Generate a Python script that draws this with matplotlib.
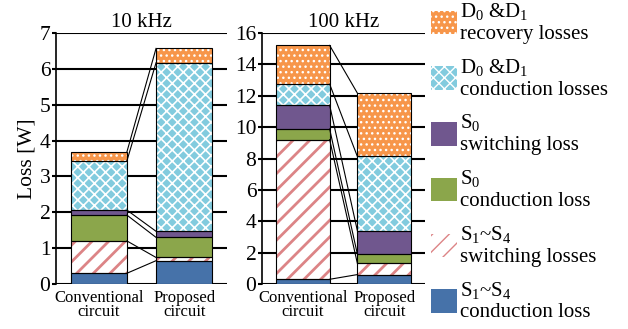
import matplotlib.pyplot as plt
import numpy as np
from matplotlib.patches import Patch

# Loss breakdown [W], bottom -> top:
# S1~S4 conduction, S1~S4 switching, S0 conduction, S0 switching,
# D0&D1 conduction, D0&D1 recovery
circuits = ["Conventional\ncircuit", "Proposed\ncircuit"]
panel_titles = ["10 kHz", "100 kHz"]

loss_10k_conv = [0.30, 0.90, 0.72, 0.14, 1.38, 0.25]
loss_10k_prop = [0.65, 0.09, 0.56, 0.17, 4.70, 0.40]
loss_100k_conv = [0.30, 8.90, 0.68, 1.52, 1.34, 2.47]
loss_100k_prop = [0.60, 0.72, 0.59, 1.49, 4.73, 4.04]

yticks_10k = [0, 1, 2, 3, 4, 5, 6, 7]
yticks_100k = [0, 2, 4, 6, 8, 10, 12, 14, 16]

legend_labels = [
    "S$_1$~S$_4$\nconduction loss",
    "S$_1$~S$_4$\nswitching losses",
    "S$_0$\nconduction loss",
    "S$_0$\nswitching loss",
    "D$_0$ &D$_1$\nconduction losses",
    "D$_0$ &D$_1$\nrecovery losses",
]

# (face, hatch, hatch colour, hatch width)
STYLES = [
    ("#4672A9", None, "white", 1.0),
    ("white", "//", "#DC8486", 2.0),
    ("#8BA64B", None, "white", 1.0),
    ("#70578E", None, "white", 1.0),
    ("#82CBDE", "xxx", "white", 1.2),
    ("#F7964A", "...", "white", 1.0),
]

BAR_W = 0.66

plt.rcParams.update(
    {
        "font.family": "Liberation Serif",
        "mathtext.fontset": "custom",
        "mathtext.rm": "Liberation Serif",
        "mathtext.it": "Liberation Serif:italic",
        "axes.spines.top": False,
        "axes.spines.right": False,
        "axes.spines.bottom": False,
    }
)


def draw_panel(ax, conv, prop, yticks, title):
    x = np.arange(2)
    bottoms = np.zeros(2)
    tops = []
    for i, (face, hatch, hcol, hlw) in enumerate(STYLES):
        h = np.array([conv[i], prop[i]])
        plt.rcParams["hatch.linewidth"] = hlw
        ax.bar(x, h, BAR_W, bottom=bottoms, color=face, hatch=hatch,
               edgecolor=hcol, linewidth=0, zorder=2)
        ax.bar(x, h, BAR_W, bottom=bottoms, facecolor="none",
               edgecolor="black", linewidth=0.8, zorder=3)
        bottoms = bottoms + h
        tops.append(bottoms.copy())

    # series lines between the stacks
    for t in tops:
        ax.plot([x[0] + BAR_W / 2, x[1] - BAR_W / 2], [t[0], t[1]],
                color="black", linewidth=0.8, zorder=3)

    ax.set_xlim(-0.5, 1.5)
    ax.set_ylim(0, yticks[-1])
    ax.set_yticks(yticks)
    ax.set_xticks(x)
    ax.set_xticklabels(circuits, fontsize=12, linespacing=0.9)
    ax.tick_params(axis="x", length=0, pad=4)
    ax.tick_params(axis="y", labelsize=15.5, length=3, width=1.5, pad=1)
    ax.yaxis.grid(True, color="black", linewidth=1.5, zorder=0)
    ax.set_axisbelow(True)
    ax.spines["left"].set_linewidth(1.2)
    ax.set_title(title, fontsize=15, pad=4)


fig = plt.figure(figsize=(6.28, 3.29), dpi=100)
ax1 = fig.add_axes([56 / 628, 1 - 284 / 329, 171 / 628, 251 / 329])
ax2 = fig.add_axes([262 / 628, 1 - 284 / 329, 163 / 628, 251 / 329])

draw_panel(ax1, loss_10k_conv, loss_10k_prop, yticks_10k, panel_titles[0])
draw_panel(ax2, loss_100k_conv, loss_100k_prop, yticks_100k, panel_titles[1])
ax1.set_ylabel("Loss [W]", fontsize=15.5, labelpad=2)

handles = []
for f, h, c, lw in STYLES:
    plt.rcParams["hatch.linewidth"] = lw
    handles.append(Patch(facecolor=f, hatch=h, edgecolor=c, linewidth=0))

fig.legend(
    handles[::-1],
    legend_labels[::-1],
    loc="upper left",
    bbox_to_anchor=(431 / 628, 1 - 1 / 329),
    frameon=False,
    fontsize=15,
    borderpad=0,
    borderaxespad=0,
    handlelength=1.25,
    handleheight=1.35,
    handletextpad=0.12,
    labelspacing=0.62,
)

fig.savefig("out.png", dpi=100, facecolor="white")
